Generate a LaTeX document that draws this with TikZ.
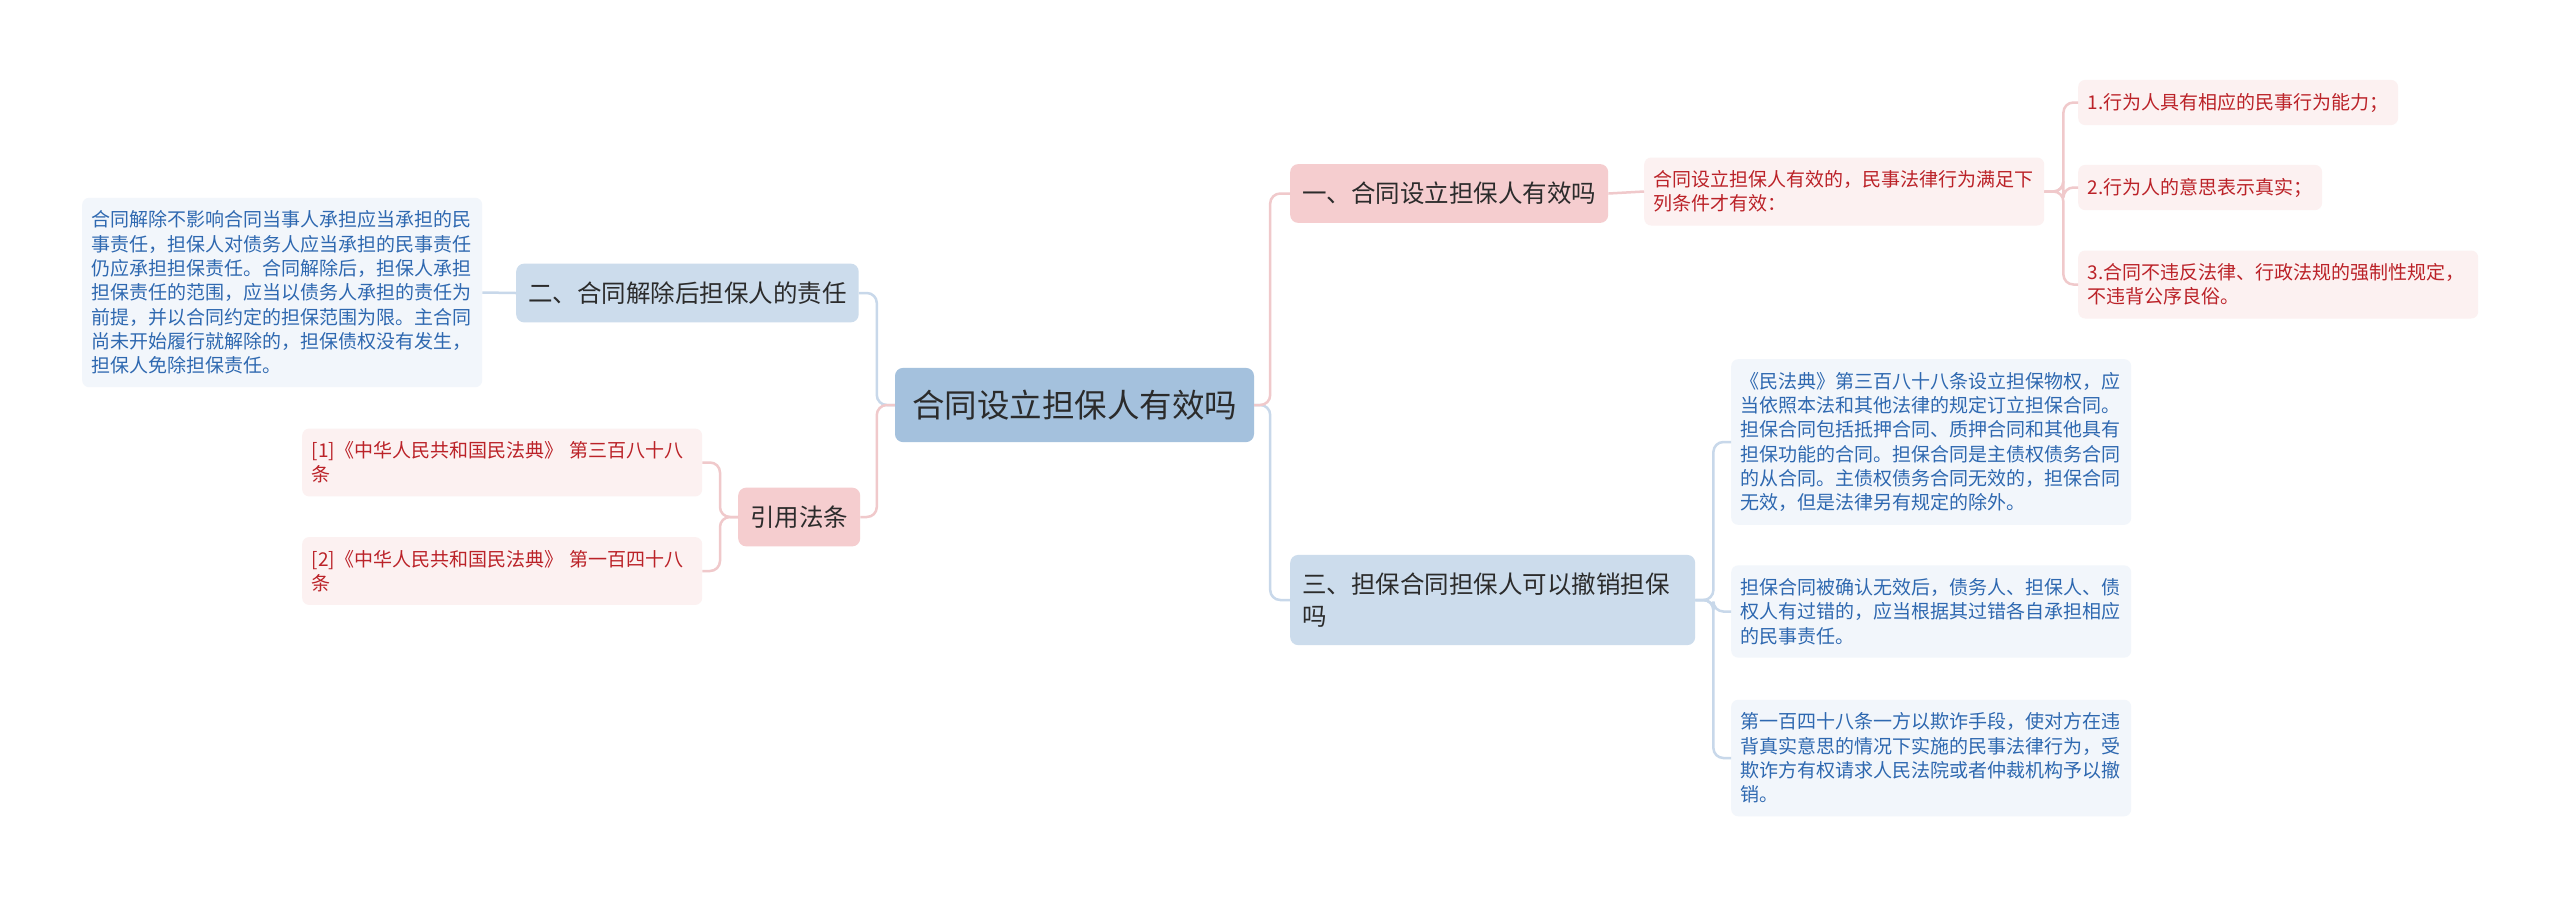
\documentclass[tikz,border=0pt]{standalone}
\usepackage{fontspec}
\setmainfont{Noto Sans CJK SC}
\definecolor{cmain}{HTML}{A4C1DD}
\definecolor{cblue}{HTML}{CCDCEC}
\definecolor{cpink}{HTML}{F5CDCF}
\definecolor{lblue}{HTML}{F2F6FB}
\definecolor{lpink}{HTML}{FCF1F1}
\definecolor{tblue}{HTML}{2E68B0}
\definecolor{tred}{HTML}{BB2228}
\definecolor{tdark}{HTML}{2B2B2B}
\definecolor{eblue}{HTML}{C8D8EA}
\definecolor{epink}{HTML}{F0C9CB}
\tikzset{
  mainnode/.style={fill=cmain, text=tdark, rounded corners=8pt, inner xsep=17pt, inner ysep=22pt, font=\fontsize{32.5}{40}\selectfont},
  topic/.style={rounded corners=8pt, inner xsep=12pt, inner ysep=18pt, text=tdark, align=left, font=\fontsize{24.5}{31.6}\selectfont, anchor=west},
  bluetopic/.style={topic, fill=cblue},
  pinktopic/.style={topic, fill=cpink},
  leaf/.style={rounded corners=7pt, inner xsep=9.5pt, inner ysep=13pt, align=left, font=\fontsize{19}{24.3}\selectfont, anchor=west},
  blueleaf/.style={leaf, fill=lblue, text=tblue},
  pinkleaf/.style={leaf, fill=lpink, text=tred},
  wide/.style={text width=381pt},
  bline/.style={draw=eblue, line width=2.5pt, rounded corners=10pt},
  pline/.style={draw=epink, line width=2.5pt, rounded corners=10pt}
}
\begin{document}
\begin{tikzpicture}[x=1pt,y=-1pt]
\useasboundingbox[fill=white] (0,0) rectangle (2560,898);

% central
\node[mainnode] (c) at (1074.5,405) {合同设立担保人有效吗};

% left side
\node[bluetopic] (n2) at (516,293) {二、合同解除后担保人的责任};
\node[pinktopic] (nr) at (738,517) {引用法条};
\node[blueleaf, wide] (lt) at (82,292.5) {合同解除不影响合同当事人承担应当承担的民\\事责任，担保人对债务人应当承担的民事责任\\仍应承担担保责任。合同解除后，担保人承担\\担保责任的范围，应当以债务人承担的责任为\\前提，并以合同约定的担保范围为限。主合同\\尚未开始履行就解除的，担保债权没有发生，\\担保人免除担保责任。};
\node[pinkleaf, wide] (r1) at (302,462.5) {[1]《中华人民共和国民法典》 第三百八十八\\条};
\node[pinkleaf, wide] (r2) at (302,571) {[2]《中华人民共和国民法典》 第一百四十八\\条};

% right side
\node[pinktopic] (n1) at (1290,193.5) {一、合同设立担保人有效吗};
\node[pinkleaf, wide] (cd) at (1644,191.5) {合同设立担保人有效的，民事法律行为满足下\\列条件才有效：};
\node[pinkleaf] (i1) at (2078,102.5) {1.行为人具有相应的民事行为能力；};
\node[pinkleaf] (i2) at (2078,187.5) {2.行为人的意思表示真实；};
\node[pinkleaf, wide] (i3) at (2078,284.5) {3.合同不违反法律、行政法规的强制性规定，\\不违背公序良俗。};

\node[bluetopic, text width=381pt] (n3) at (1290,600) {三、担保合同担保人可以撤销担保\\吗};
\node[blueleaf, wide] (d1) at (1731,442) {《民法典》第三百八十八条设立担保物权，应\\当依照本法和其他法律的规定订立担保合同。\\担保合同包括抵押合同、质押合同和其他具有\\担保功能的合同。担保合同是主债权债务合同\\的从合同。主债权债务合同无效的，担保合同\\无效，但是法律另有规定的除外。};
\node[blueleaf, wide] (d2) at (1731,611.5) {担保合同被确认无效后，债务人、担保人、债\\权人有过错的，应当根据其过错各自承担相应\\的民事责任。};
\node[blueleaf, wide] (d3) at (1731,758) {第一百四十八条一方以欺诈手段，使对方在违\\背真实意思的情况下实施的民事法律行为，受\\欺诈方有权请求人民法院或者仲裁机构予以撤\\销。};

% connectors
\draw[bline] (c.east) -- ([xshift=16pt]c.east) |- (n3.west);
\draw[pline] (c.east) -- ([xshift=16pt]c.east) |- (n1.west);
\draw[bline] (c.west) -- ([xshift=-18pt]c.west) |- (n2.east);
\draw[pline] (c.west) -- ([xshift=-18pt]c.west) |- (nr.east);
\draw[bline] (n2.west) -- (lt.east);
\draw[pline] (nr.west) -- ([xshift=-18pt]nr.west) |- (r1.east);
\draw[pline] (nr.west) -- ([xshift=-18pt]nr.west) |- (r2.east);
\draw[pline] (n1.east) -- (cd.west);
\draw[pline] (cd.east) -- ([xshift=19pt]cd.east) |- (i1.west);
\draw[pline] (cd.east) -- ([xshift=19pt]cd.east) |- (i2.west);
\draw[pline] (cd.east) -- ([xshift=19pt]cd.east) |- (i3.west);
\draw[bline] (n3.east) -- ([xshift=18pt]n3.east) |- (d1.west);
\draw[bline] (n3.east) -- ([xshift=18pt]n3.east) |- (d2.west);
\draw[bline] (n3.east) -- ([xshift=18pt]n3.east) |- (d3.west);
\end{tikzpicture}
\end{document}
